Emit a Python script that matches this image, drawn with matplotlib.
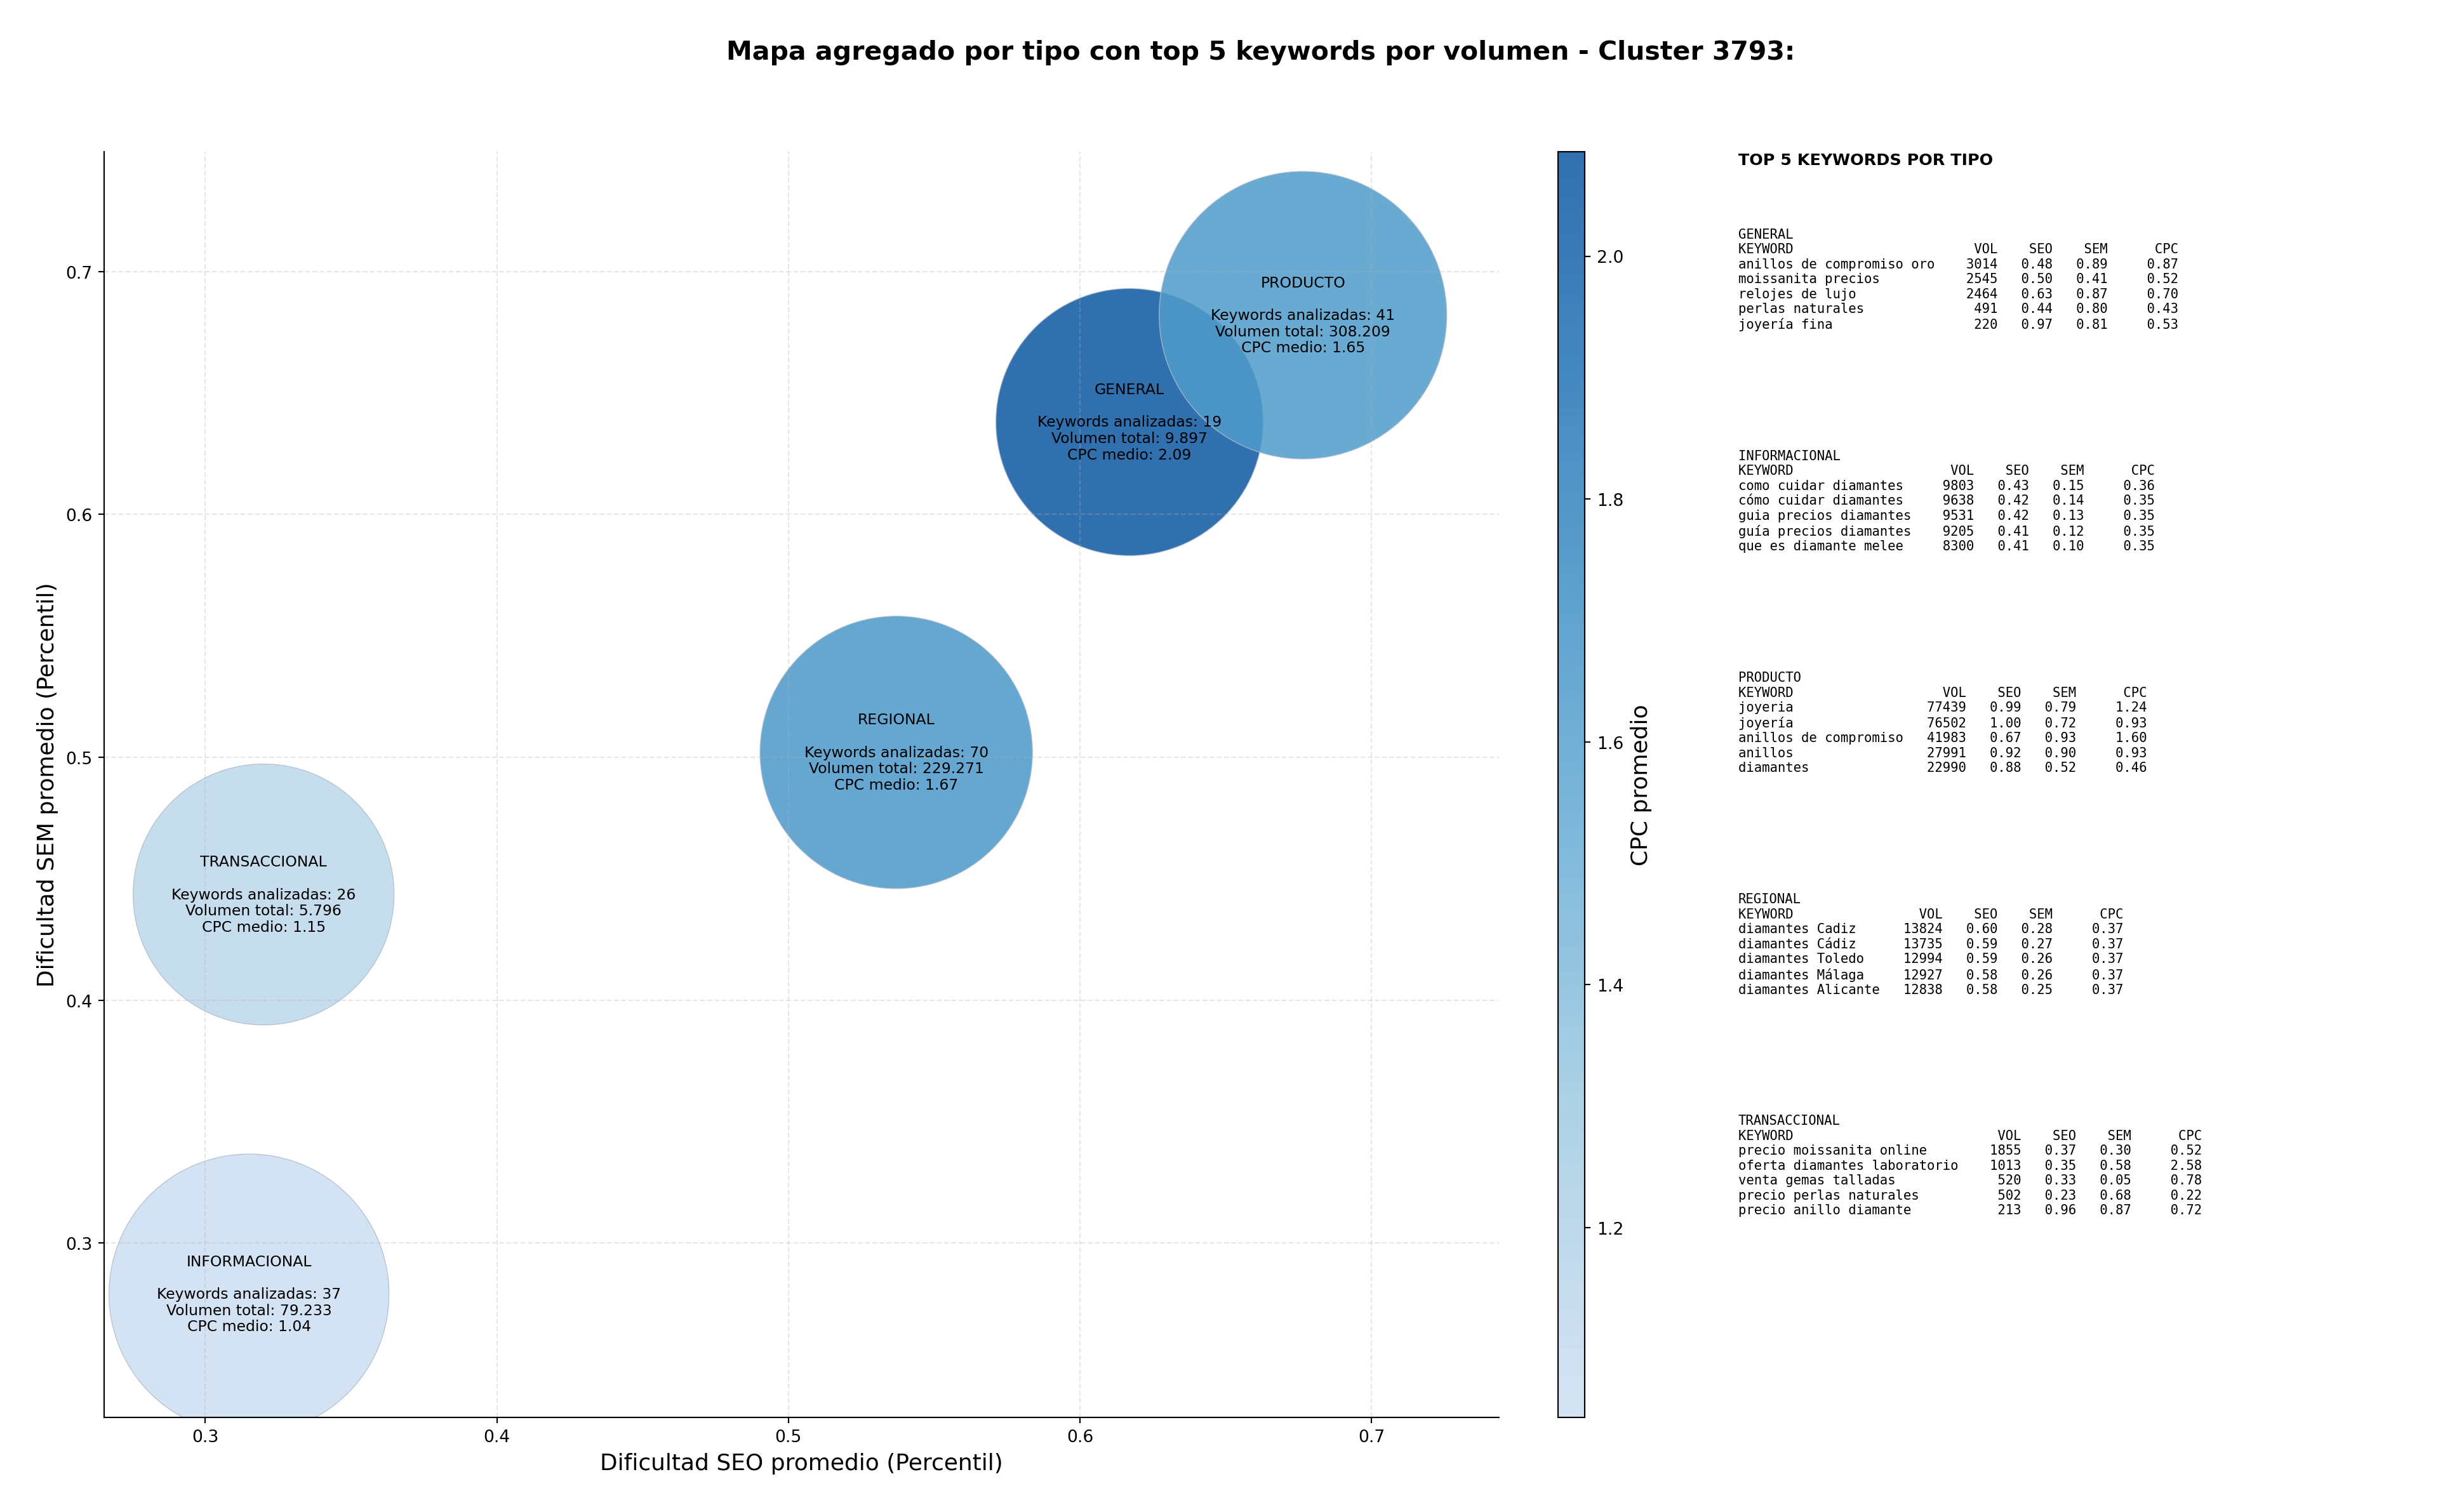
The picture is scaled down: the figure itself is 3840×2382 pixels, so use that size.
import numpy as np
import matplotlib
matplotlib.use("Agg")
import matplotlib.pyplot as plt
from matplotlib.colors import LinearSegmentedColormap

## DATA: aggregated values per keyword type
tipos = ["GENERAL", "INFORMACIONAL", "PRODUCTO", "REGIONAL", "TRANSACCIONAL"]
seo_medio = [0.617, 0.315, 0.6765, 0.537, 0.320]
sem_medio = [0.638, 0.279, 0.682, 0.502, 0.4435]
cpc_medio = [2.086, 1.044, 1.65, 1.67, 1.15]
n_keywords = [19, 37, 41, 70, 26]
vol_total = [9897, 79233, 308209, 229271, 5796]
bubble_area = [24900, 27350, 28850, 25900, 23750]  # marker area (pt^2)

# top 5 keywords per type: (keyword, vol, seo, sem, cpc)
top_general = [
    ("anillos de compromiso oro", 3014, 0.48, 0.89, 0.87),
    ("moissanita precios", 2545, 0.50, 0.41, 0.52),
    ("relojes de lujo", 2464, 0.63, 0.87, 0.70),
    ("perlas naturales", 491, 0.44, 0.80, 0.43),
    ("joyería fina", 220, 0.97, 0.81, 0.53),
]
top_informacional = [
    ("como cuidar diamantes", 9803, 0.43, 0.15, 0.36),
    ("cómo cuidar diamantes", 9638, 0.42, 0.14, 0.35),
    ("guia precios diamantes", 9531, 0.42, 0.13, 0.35),
    ("guía precios diamantes", 9205, 0.41, 0.12, 0.35),
    ("que es diamante melee", 8300, 0.41, 0.10, 0.35),
]
top_producto = [
    ("joyeria", 77439, 0.99, 0.79, 1.24),
    ("joyería", 76502, 1.00, 0.72, 0.93),
    ("anillos de compromiso", 41983, 0.67, 0.93, 1.60),
    ("anillos", 27991, 0.92, 0.90, 0.93),
    ("diamantes", 22990, 0.88, 0.52, 0.46),
]
top_regional = [
    ("diamantes Cadiz", 13824, 0.60, 0.28, 0.37),
    ("diamantes Cádiz", 13735, 0.59, 0.27, 0.37),
    ("diamantes Toledo", 12994, 0.59, 0.26, 0.37),
    ("diamantes Málaga", 12927, 0.58, 0.26, 0.37),
    ("diamantes Alicante", 12838, 0.58, 0.25, 0.37),
]
top_transaccional = [
    ("precio moissanita online", 1855, 0.37, 0.30, 0.52),
    ("oferta diamantes laboratorio", 1013, 0.35, 0.58, 2.58),
    ("venta gemas talladas", 520, 0.33, 0.05, 0.78),
    ("precio perlas naturales", 502, 0.23, 0.68, 0.22),
    ("precio anillo diamante", 213, 0.96, 0.87, 0.72),
]
tops = [top_general, top_informacional, top_producto, top_regional, top_transaccional]

## PLOT
plt.rcParams['font.family'] = ['DejaVu Sans']

# Blues without the almost-white end
blues = plt.get_cmap('Blues')
cmap = LinearSegmentedColormap.from_list('blues_cut', blues(np.linspace(0.22, 0.85, 256)))

fig = plt.figure(figsize=(20, 12.411), dpi=192)
ax = fig.add_axes([0.0427, 0.0627, 0.5721, 0.8366])
cax = fig.add_axes([0.639, 0.0627, 0.011, 0.8366])

sc = ax.scatter(seo_medio, sem_medio, s=bubble_area, c=cpc_medio, cmap=cmap,
                alpha=0.85, edgecolors='#b0bccb', linewidths=0.5)

def fmt_miles(v):
    return f"{v:,}".replace(",", ".")

for i, t in enumerate(tipos):
    label = (f"{t}\n\nKeywords analizadas: {n_keywords[i]}\n"
             f"Volumen total: {fmt_miles(vol_total[i])}\nCPC medio: {cpc_medio[i]:.2f}")
    ax.text(seo_medio[i], sem_medio[i], label, ha='center', va='center',
            fontsize=8.8, multialignment='center', linespacing=1.15)

ax.set_xlim(0.2653, 0.7437)
ax.set_ylim(0.2283, 0.7493)
ax.grid(True, linestyle='--', alpha=0.3)
ax.spines['top'].set_visible(False)
ax.spines['right'].set_visible(False)
ax.set_xlabel("Dificultad SEO promedio (Percentil)", fontsize=13.5)
ax.set_ylabel("Dificultad SEM promedio (Percentil)", fontsize=13.5)
ax.tick_params(labelsize=10)

cb = fig.colorbar(sc, cax=cax)
cb.set_label("CPC promedio", fontsize=13.5)
cb.ax.tick_params(labelsize=10)

fig.text(0.517, 0.965, "Mapa agregado por tipo con top 5 keywords por volumen - Cluster 3793:",
         ha='center', va='center', fontsize=15.4, fontweight='bold')

# Right-hand text panel with the top keywords
x_txt = 0.713
fig.text(x_txt, 0.894, "TOP 5 KEYWORDS POR TIPO", fontsize=9.5, fontweight='bold', va='center')
for i, t in enumerate(tipos):
    rows = tops[i]
    w = max(len(r[0]) for r in rows) + 2
    lines = [t, f"{'KEYWORD':<{w}}{'VOL':>6}{'SEO':>7}{'SEM':>7}{'CPC':>9}"]
    for kw, vol, seo, sem, cpc in rows:
        lines.append(f"{kw:<{w}}{vol:>6}{seo:>7.2f}{sem:>7.2f}{cpc:>9.2f}")
    fig.text(x_txt, 0.849 - i * 0.1465, "\n".join(lines), family='monospace',
             fontsize=7.73, va='top', linespacing=1.22)

fig.savefig("out.png", dpi=192)
